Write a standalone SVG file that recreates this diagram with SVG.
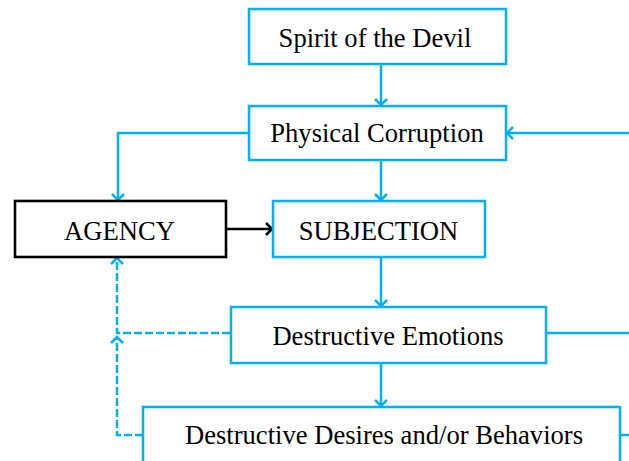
<svg xmlns="http://www.w3.org/2000/svg" width="629" height="461" viewBox="0 0 629 461">
<defs>
<style>
.box{fill:#fff;stroke:#00B0F0;stroke-width:2.5}
.kbox{fill:#fff;stroke:#000;stroke-width:2.6}
.t{font-family:"Liberation Serif","Times New Roman",serif;font-size:26.6px;fill:#000;text-anchor:middle}
.c{fill:none;stroke:#00B0F0;stroke-width:2.5}
.d{fill:none;stroke:#00B0F0;stroke-width:2.5;stroke-dasharray:8,3}
.k{fill:none;stroke:#000;stroke-width:2.6}
</style>
<marker id="ab" viewBox="-8 -8 10 16" refX="0" refY="0" markerWidth="10" markerHeight="16" markerUnits="userSpaceOnUse" orient="auto">
<path d="M-6,-6 L0,0 L-6,6" fill="none" stroke="#00B0F0" stroke-width="2.5"/>
</marker>
<marker id="ak" viewBox="-8 -8 10 16" refX="0" refY="0" markerWidth="10" markerHeight="16" markerUnits="userSpaceOnUse" orient="auto">
<path d="M-6,-6 L0,0 L-6,6" fill="none" stroke="#000" stroke-width="2.6"/>
</marker>
</defs>
<g id="connectors">
<path class="c" d="M381,64 V105" marker-end="url(#ab)"/>
<path class="c" d="M629,133 H507" marker-end="url(#ab)"/>
<path class="c" d="M249,133 H118 V200" marker-end="url(#ab)"/>
<path class="c" d="M381,160 V200" marker-end="url(#ab)"/>
<path class="k" d="M226,229 H272" marker-end="url(#ak)"/>
<path class="c" d="M381,257 V306" marker-end="url(#ab)"/>
<path class="c" d="M546,333 H629"/>
<path class="c" d="M381,363 V406" marker-end="url(#ab)"/>
<path class="c" d="M620,435 H629"/>
<path class="d" d="M230,333 H117 V258" marker-end="url(#ab)"/>
<path class="d" d="M143,435 H117 V337" marker-end="url(#ab)"/>
</g>
<g id="spirit">
<rect class="box" x="249" y="9" width="257" height="55"/>
<text class="t" x="375" y="46.5">Spirit of the Devil</text>
</g>
<g id="physical">
<rect class="box" x="249" y="106" width="257" height="54"/>
<text class="t" x="377" y="142">Physical Corruption</text>
</g>
<g id="agency">
<rect class="kbox" x="15" y="201" width="211" height="56"/>
<text class="t" x="119.5" y="240">AGENCY</text>
</g>
<g id="subjection">
<rect class="box" x="273" y="201" width="212" height="56"/>
<text class="t" x="378.5" y="240">SUBJECTION</text>
</g>
<g id="emotions">
<rect class="box" x="231" y="307" width="315" height="56"/>
<text class="t" x="388" y="345">Destructive Emotions</text>
</g>
<g id="desires">
<rect class="box" x="143" y="407" width="477" height="70"/>
<text class="t" x="384" y="444">Destructive Desires and/or Behaviors</text>
</g>
</svg>
